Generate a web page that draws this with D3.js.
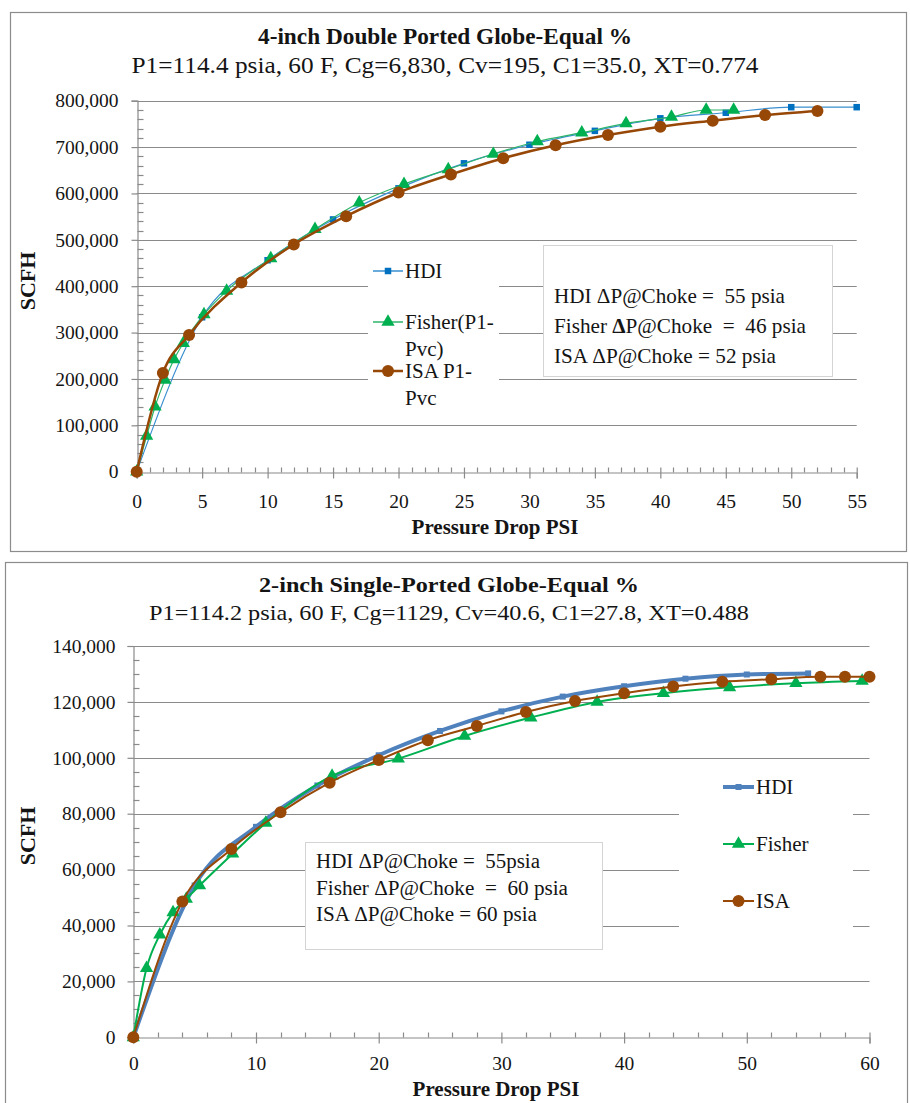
<!DOCTYPE html>
<html><head><meta charset="utf-8">
<script src="https://cdn.jsdelivr.net/npm/d3@7"></script>
<style>
html,body{margin:0;padding:0;background:#fff;}
svg{display:block;}
</style></head>
<body>
<svg id="c" width="910" height="1103"></svg>
<script>
// ---------- Chart 1 data: 4-inch Double Ported Globe ----------
const hdi1X = [0,5,10,15,20,25,30,35,40,45,50,55];
const hdi1Y = [0,333000,456000,544000,611000,665000,705000,735000,762000,774000,786000,786000];
const fisher1X = [0,0.76,1.4,2.16,2.85,3.56,5.14,6.87,10.24,13.62,17.0,20.42,23.8,27.24,30.6,34.0,37.38,40.85,43.5,45.6];
const fisher1Y = [0,77000,140000,198000,242000,277000,339000,390000,460000,523000,580000,620000,652000,685000,712000,731000,751000,765000,780000,780000];
const isa1X = [0,2,4,8,12,16,20,24,28,32,36,40,44,48,52];
const isa1Y = [0,213000,295000,408000,490000,551000,602000,641000,676000,704000,726000,744000,757000,769000,778000];
const xTicks1 = [0,5,10,15,20,25,30,35,40,45,50,55];
const yTicks1 = [0,100000,200000,300000,400000,500000,600000,700000,800000];
const legend1 = ["HDI", "Fisher(P1-|Pvc)", "ISA P1-|Pvc"];
const note1 = ["HDI ΔP@Choke =  55 psia", "Fisher ΔP@Choke  =  46 psia", "ISA ΔP@Choke = 52 psia"];

// ---------- Chart 2 data: 2-inch Single-Ported Globe ----------
const hdi2X = [0,5,10,15,20,25,30,35,40,45,50,55];
const hdi2Y = [0,54300,75300,90100,100900,109600,116600,121900,125600,128300,129800,130200];
const fisher2X = [0,1.08,2.16,3.24,4.32,5.4,8.1,10.8,16.2,21.6,27.0,32.4,37.8,43.2,48.6,54.0,59.4];
const fisher2Y = [0,24700,36700,44700,49500,54300,65700,76700,93500,99700,107800,114400,120000,123100,125200,126700,127500];
const isa2X = [0,4,8,12,16,20,24,28,32,36,40,44,48,52,56,58,60];
const isa2Y = [0,48600,67400,80500,91100,99200,106300,111400,116400,120300,123100,125500,127200,128100,129000,129000,129000];
const xTicks2 = [0,10,20,30,40,50,60];
const yTicks2 = [0,20000,40000,60000,80000,100000,120000,140000];
const legend2 = ["HDI", "Fisher", "ISA"];
const note2 = ["HDI ΔP@Choke =  55psia", "Fisher ΔP@Choke  =  60 psia", "ISA ΔP@Choke = 60 psia"];

const svg = d3.select("#c");
const fmt = d3.format(",");
const GRID = "#8a8a8a";
const FONT = '"Liberation Serif"';
const INK = "#141414";

function zip(xs, ys){ return xs.map((x,i)=>({x, y: ys[i]})); }
function txt(sel, size, bold){
  return sel.style("font-family", FONT).style("font-size", size+"px")
    .style("font-weight", bold ? "bold" : "normal").style("fill", INK);
}

function marker(g, type, color, size){
  if(type==="square"){
    return g.append("rect").attr("x",-size/2).attr("y",-size/2).attr("width",size).attr("height",size).attr("fill",color);
  } else if(type==="triangle"){
    return g.append("path").attr("d", d3.symbol().type(d3.symbolTriangle).size(size*size*0.45)()).attr("fill",color);
  } else {
    return g.append("circle").attr("r",size/2).attr("fill",color);
  }
}

function drawChart(cfg){
  const g = svg.append("g");
  g.append("rect").attr("x",cfg.frame[0]+0.5).attr("y",cfg.frame[1]+0.5)
    .attr("width",cfg.frame[2]).attr("height",cfg.frame[3])
    .attr("fill","#fff").attr("stroke","#8c8c8c").attr("stroke-width",1.2);
  const x = d3.scaleLinear().domain(cfg.xDom).range(cfg.xRange);
  const y = d3.scaleLinear().domain(cfg.yDom).range(cfg.yRange);
  // titles
  txt(g.append("text"), cfg.titleSize, true).attr("x",cfg.titleX).attr("y",cfg.titleY).attr("text-anchor","middle")
    .attr("textLength",cfg.titleLen).attr("lengthAdjust","spacingAndGlyphs").text(cfg.title);
  txt(g.append("text"), cfg.subSize, false).attr("x",cfg.titleX).attr("y",cfg.subY).attr("text-anchor","middle")
    .attr("textLength",cfg.subLen).attr("lengthAdjust","spacingAndGlyphs").text(cfg.sub);
  // gridlines
  g.append("g").selectAll("line").data(cfg.yTicks.filter(d=>d>0)).join("line")
    .attr("x1",x.range()[0]).attr("x2",x.range()[1])
    .attr("y1",d=>Math.round(y(d))+0.5).attr("y2",d=>Math.round(y(d))+0.5)
    .attr("stroke",GRID).attr("stroke-width",1.2);
  // y axis
  const x0 = Math.round(x.range()[0])+0.5;
  const yAx = g.append("g").attr("transform",`translate(${x0},0)`)
    .call(d3.axisLeft(y).tickValues(cfg.yTicks).tickFormat(fmt).tickSize(6).tickPadding(cfg.yPad));
  yAx.select(".domain").attr("stroke",GRID).attr("stroke-width",1.2);
  yAx.selectAll(".tick line").attr("stroke",GRID).attr("stroke-width",1.2);
  txt(yAx.selectAll(".tick text"), cfg.tickSize, false);
  const yMin = d3.range(cfg.yDom[0], cfg.yDom[1]+1, cfg.yMinor).filter(v=>v % cfg.yMajor !== 0);
  g.append("g").selectAll("line").data(yMin).join("line")
    .attr("x1",x0).attr("x2",x0+6).attr("y1",d=>Math.round(y(d))+0.5).attr("y2",d=>Math.round(y(d))+0.5)
    .attr("stroke",GRID).attr("stroke-width",1.2);
  // x axis
  const y0 = Math.round(y.range()[0])+0.5;
  const xAx = g.append("g").attr("transform",`translate(0,${y0})`)
    .call(d3.axisBottom(x).tickValues(cfg.xTicks).tickSize(6).tickPadding(cfg.xPad));
  xAx.select(".domain").attr("stroke",GRID).attr("stroke-width",1.2);
  xAx.selectAll(".tick line").attr("stroke",GRID).attr("stroke-width",1.2).attr("y1",-5);
  txt(xAx.selectAll(".tick text"), cfg.tickSize, false);
  const xMin = d3.range(cfg.xDom[0], cfg.xDom[1]+0.001, cfg.xMinor).filter(v=>Math.abs(v % cfg.xMajor) > 1e-6);
  g.append("g").selectAll("line").data(xMin).join("line")
    .attr("x1",d=>Math.round(x(d))+0.5).attr("x2",d=>Math.round(x(d))+0.5).attr("y1",y0-5).attr("y2",y0)
    .attr("stroke",GRID).attr("stroke-width",1.2);
  // axis titles
  txt(g.append("text"), cfg.yTitleSize, true).attr("transform",`translate(${cfg.yTitleX},${cfg.yTitleY}) rotate(-90)`)
    .attr("text-anchor","middle").text("SCFH");
  txt(g.append("text"), cfg.axTitleSize, true).attr("x",cfg.xTitleX).attr("y",cfg.xTitleY).attr("text-anchor","middle")
    .text("Pressure Drop PSI");

  // annotation box
  const nb = cfg.noteBox;
  g.append("rect").attr("x",nb[0]+0.5).attr("y",nb[1]+0.5).attr("width",nb[2]).attr("height",nb[3])
    .attr("fill","#fff").attr("stroke","#d4d4d4").attr("stroke-width",1);
  cfg.notes.forEach((t,i)=>{
    const tx = txt(g.append("text"), cfg.noteSize, false).attr("x",cfg.noteX).attr("y",cfg.noteY+i*cfg.noteDy)
      .attr("textLength",cfg.noteLens[i]).attr("lengthAdjust","spacingAndGlyphs").style("white-space","pre");
    if(cfg.boldDelta && i===1){
      const k = t.indexOf("Δ");
      tx.append("tspan").text(t.slice(0,k));
      tx.append("tspan").style("font-weight","bold").text("Δ");
      tx.append("tspan").text(t.slice(k+1));
    } else tx.text(t);
  });

  // series
  const line = d3.line().x(d=>x(d.x)).y(d=>y(d.y)).curve(d3.curveMonotoneX);
  cfg.series.forEach(s=>{
    const data = zip(s.xs, s.ys);
    g.append("path").datum(data).attr("d",line).attr("fill","none")
      .attr("stroke",s.lineColor).attr("stroke-width",s.lw).attr("stroke-linejoin","round");
    const mg = g.append("g");
    data.forEach(d=>{
      const m = mg.append("g").attr("transform",`translate(${x(d.x)},${y(d.y)})`);
      marker(m, s.marker, s.color, s.ms);
    });
  });

  // legend
  const lb = cfg.legBox;
  g.append("rect").attr("x",lb[0]).attr("y",lb[1]).attr("width",lb[2]).attr("height",lb[3]).attr("fill","#fff");
  cfg.series.forEach((s,i)=>{
    const ly = cfg.legY[i];
    g.append("line").attr("x1",cfg.legX0).attr("x2",cfg.legX1).attr("y1",ly).attr("y2",ly)
      .attr("stroke",s.lineColor).attr("stroke-width",Math.max(s.lw,1.5));
    const m = g.append("g").attr("transform",`translate(${(cfg.legX0+cfg.legX1)/2},${ly})`);
    marker(m, s.marker, s.color, s.legMs || s.ms);
    const parts = cfg.legend[i].split("|");
    parts.forEach((p,j)=>{
      txt(g.append("text"), cfg.legSize, false).attr("x",cfg.legX1+2).attr("y",ly+7+j*cfg.legLineDy).text(p);
    });
  });
}

drawChart({
  frame:[10,12,896,539],
  xDom:[0,55], xRange:[136.7,856.7], yDom:[0,800000], yRange:[471.7,100.7],
  xTicks:xTicks1, yTicks:yTicks1, xMinor:1, xMajor:5, yMinor:20000, yMajor:100000,
  title:"4-inch Double Ported Globe-Equal %", titleX:445, titleY:44, titleSize:23, titleLen:374,
  sub:"P1=114.4 psia, 60 F, Cg=6,830, Cv=195, C1=35.0, XT=0.774", subY:73, subSize:23, subLen:627,
  tickSize:19.5, axTitleSize:21, yTitleSize:22, xPad:16, yPad:13,
  yTitleX:35, yTitleY:281, xTitleX:495, xTitleY:534,
  noteBox:[543,245,289,131], noteX:554, noteY:303, noteDy:30, noteSize:21, noteLens:[231,252,222], boldDelta:true,
  notes:note1,
  legBox:[368,246,131,164], legX0:373, legX1:403, legY:[271,322,371], legLineDy:27, legSize:21,
  legend:legend1,
  series:[
    {xs:hdi1X, ys:hdi1Y, color:"#0070C0", lineColor:"#3a8fd0", lw:1.2, marker:"square", ms:6.5},
    {xs:fisher1X, ys:fisher1Y, color:"#00B050", lineColor:"#2db46a", lw:1.2, marker:"triangle", ms:13},
    {xs:isa1X, ys:isa1Y, color:"#974706", lineColor:"#974706", lw:2.5, marker:"circle", ms:12}
  ]
});

drawChart({
  frame:[5,562,902,560],
  xDom:[0,60], xRange:[133.3,869.5], yDom:[0,140000], yRange:[1037.3,646],
  xTicks:xTicks2, yTicks:yTicks2, xMinor:2, xMajor:10, yMinor:5000, yMajor:20000,
  title:"2-inch Single-Ported Globe-Equal %", titleX:449, titleY:592, titleSize:22, titleLen:380,
  sub:"P1=114.2 psia, 60 F, Cg=1129, Cv=40.6, C1=27.8, XT=0.488", subY:620, subSize:22, subLen:600,
  tickSize:19.5, axTitleSize:21, yTitleSize:22, xPad:13, yPad:12,
  yTitleX:35, yTitleY:836, xTitleX:496, xTitleY:1096,
  noteBox:[305,842,297,107], noteX:316, noteY:868, noteDy:26.5, noteSize:20, noteLens:[224,252,221], boldDelta:false,
  notes:note2,
  legBox:[679,764,174,170], legX0:723, legX1:754, legY:[787,844,901], legLineDy:27, legSize:21,
  legend:legend2,
  series:[
    {xs:hdi2X, ys:hdi2Y, color:"#4F81BD", lineColor:"#4F81BD", lw:4, marker:"square", ms:6},
    {xs:fisher2X, ys:fisher2Y, color:"#00B050", lineColor:"#00B050", lw:2, marker:"triangle", ms:13},
    {xs:isa2X, ys:isa2Y, color:"#984807", lineColor:"#984807", lw:2, marker:"circle", ms:12}
  ]
});
</script>
</body></html>
